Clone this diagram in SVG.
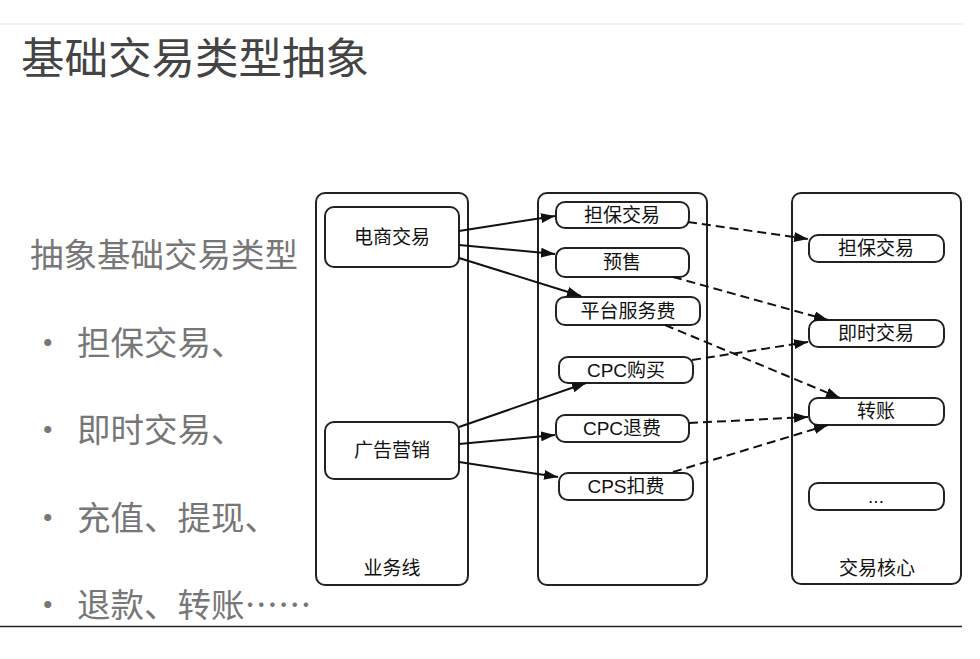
<svg xmlns="http://www.w3.org/2000/svg" width="980" height="659" viewBox="0 0 980 659">
<style>
.bg{fill:#fff}
.col{fill:#fff;stroke:#222;stroke-width:2}
.nd{fill:#fff;stroke:#222;stroke-width:2}
.t{font-family:"Liberation Sans","Noto Sans CJK SC",sans-serif;font-size:19px;fill:#111;text-anchor:middle}
.title{font-family:"Noto Sans CJK SC",sans-serif;font-size:43.5px;fill:#444}
.side{font-family:"Noto Sans CJK SC",sans-serif;font-size:33.5px;fill:#777}
.solid{stroke:#111;stroke-width:2;fill:none}
.dash{stroke:#111;stroke-width:2;fill:none;stroke-dasharray:9 5}
</style>
<defs>
<marker id="ah" markerUnits="userSpaceOnUse" markerWidth="14" markerHeight="10" refX="14" refY="5" orient="auto">
<path d="M0,0 L14,5 L0,10 z" fill="#111"/>
</marker>
</defs>
<rect class="bg" x="0" y="0" width="980" height="659"/>
<line x1="0" y1="24" x2="965" y2="24" stroke="#eeeeee" stroke-width="1.5"/>
<line x1="0" y1="626.5" x2="962" y2="626.5" stroke="#222" stroke-width="1.5"/>

<g id="title"><text class="title" x="21" y="74">基础交易类型抽象</text></g>
<g id="side">
<text class="side" x="30" y="267">抽象基础交易类型</text>
<text class="side" x="31" y="355">·</text><text class="side" x="77" y="355">担保交易、</text>
<text class="side" x="31" y="442">·</text><text class="side" x="77" y="442">即时交易、</text>
<text class="side" x="31" y="530">·</text><text class="side" x="77" y="530">充值、提现、</text>
<text class="side" x="31" y="617">·</text><text class="side" x="77" y="617">退款、转账……</text>
</g>

<g id="col-business"><rect class="col" x="316" y="193" width="152" height="392" rx="9"/><text class="t" x="392" y="575">业务线</text></g>
<g id="col-mid"><rect class="col" x="538" y="193" width="169" height="392" rx="9"/></g>
<g id="col-core"><rect class="col" x="792" y="193" width="169" height="391" rx="9"/><text class="t" x="877" y="575">交易核心</text></g>

<g id="n-ec"><rect class="nd" x="325" y="207" width="134" height="60" rx="9"/><text class="t" x="392" y="244">电商交易</text></g>
<g id="n-ad"><rect class="nd" x="325" y="422" width="134" height="57" rx="9"/><text class="t" x="392" y="457">广告营销</text></g>

<g id="m-db"><rect class="nd" x="556" y="202" width="133" height="26" rx="9"/><text class="t" x="622" y="222">担保交易</text></g>
<g id="m-ys"><rect class="nd" x="556" y="248" width="133" height="29" rx="9"/><text class="t" x="622" y="269">预售</text></g>
<g id="m-pt"><rect class="nd" x="556" y="297" width="144" height="28" rx="9"/><text class="t" x="628" y="318">平台服务费</text></g>
<g id="m-cpcb"><rect class="nd" x="559" y="357" width="134" height="26" rx="9"/><text class="t" x="626" y="377">CPC购买</text></g>
<g id="m-cpct"><rect class="nd" x="556" y="415" width="133" height="27" rx="9"/><text class="t" x="622" y="435">CPC退费</text></g>
<g id="m-cps"><rect class="nd" x="559" y="473" width="134" height="27" rx="9"/><text class="t" x="626" y="493">CPS扣费</text></g>

<g id="c-db"><rect class="nd" x="809" y="235" width="135" height="27" rx="9"/><text class="t" x="876" y="255">担保交易</text></g>
<g id="c-js"><rect class="nd" x="809" y="320" width="135" height="27" rx="9"/><text class="t" x="876" y="340">即时交易</text></g>
<g id="c-zz"><rect class="nd" x="809" y="398" width="135" height="27" rx="9"/><text class="t" x="876" y="418">转账</text></g>
<g id="c-more"><rect class="nd" x="809" y="483" width="135" height="27" rx="9"/><text class="t" x="876" y="503">...</text></g>

<g id="connectors">
<line class="solid" x1="459" y1="231" x2="555" y2="216" marker-end="url(#ah)"/>
<line class="solid" x1="459" y1="245" x2="555" y2="254" marker-end="url(#ah)"/>
<line class="solid" x1="459" y1="258" x2="581" y2="296" marker-end="url(#ah)"/>
<line class="solid" x1="459" y1="427" x2="586" y2="383" marker-end="url(#ah)"/>
<line class="solid" x1="459" y1="444" x2="555" y2="435" marker-end="url(#ah)"/>
<line class="solid" x1="459" y1="462" x2="558" y2="477" marker-end="url(#ah)"/>
<line class="dash" x1="688" y1="222" x2="808" y2="239" marker-end="url(#ah)"/>
<line class="dash" x1="673" y1="277" x2="828" y2="320" marker-end="url(#ah)"/>
<line class="dash" x1="665" y1="325" x2="840" y2="398" marker-end="url(#ah)"/>
<line class="dash" x1="692" y1="360" x2="808" y2="342" marker-end="url(#ah)"/>
<line class="dash" x1="689" y1="423" x2="808" y2="417" marker-end="url(#ah)"/>
<line class="dash" x1="673" y1="472" x2="828" y2="425" marker-end="url(#ah)"/>
</g>
</svg>
